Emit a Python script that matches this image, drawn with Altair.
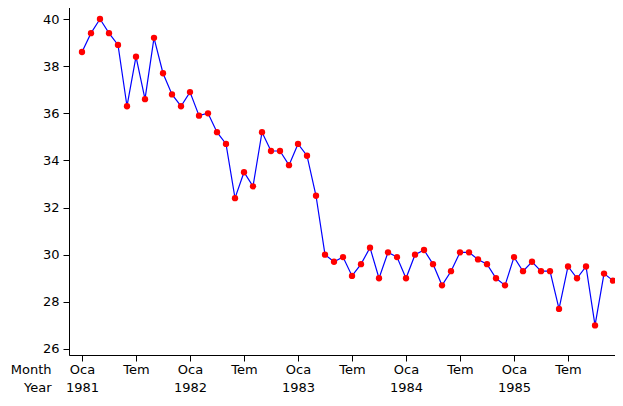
import json
import altair as alt
import pandas as pd

# Monthly values, Jan 1981 .. Dec 1985
values = [
    38.6, 39.4, 40.0, 39.4, 38.9, 36.3, 38.4, 36.6, 39.2, 37.7, 36.8, 36.3,
    36.9, 35.9, 36.0, 35.2, 34.7, 32.4, 33.5, 32.9, 35.2, 34.4, 34.4, 33.8,
    34.7, 34.2, 32.5, 30.0, 29.7, 29.9, 29.1, 29.6, 30.3, 29.0, 30.1, 29.9,
    29.0, 30.0, 30.2, 29.6, 28.7, 29.3, 30.1, 30.1, 29.8, 29.6, 29.0, 28.7,
    29.9, 29.3, 29.7, 29.3, 29.3, 27.7, 29.5, 29.0, 29.5, 27.0, 29.2, 28.9,
]
month_index = list(range(len(values)))

tick_positions = [0, 6, 12, 18, 24, 30, 36, 42, 48, 54]
month_labels = ["Oca", "Tem", "Oca", "Tem", "Oca", "Tem", "Oca", "Tem", "Oca", "Tem"]
year_labels = ["1981", "", "1982", "", "1983", "", "1984", "", "1985", ""]
y_ticks = [26, 28, 30, 32, 34, 36, 38, 40]

df = pd.DataFrame({"t": month_index, "v": values})

label_expr = (
    f"[{json.dumps(month_labels)}[round(datum.value/6)], "
    f"{json.dumps(year_labels)}[round(datum.value/6)]]"
)

FONT = "DejaVu Sans"

x = alt.X(
    "t:Q",
    scale=alt.Scale(domain=[-1.444, 59.22], nice=False, zero=False),
    axis=alt.Axis(
        values=tick_positions,
        labelExpr=label_expr,
        labelLineHeight=18,
        labelOverlap=False,
        labelFlush=False,
        tickSize=6,
        labelPadding=2,
        labelBaseline="top",
        grid=False,
        title=["Month", "Year"],
        titleX=-18,
        titleY=8,
        titleAlign="right",
        titleBaseline="top",
        titleLineHeight=18,
        titleFontWeight="normal",
        titleFontSize=13,
        titleFont=FONT,
        titleColor="black",
    ),
)
y = alt.Y(
    "v:Q",
    scale=alt.Scale(domain=[25.745, 40.764], nice=False, zero=False),
    axis=alt.Axis(values=y_ticks, tickSize=6, labelPadding=4, grid=False, title=None),
)

line = alt.Chart(df).mark_line(color="#0000ff", strokeWidth=1.2).encode(x=x, y=y)
pts = alt.Chart(df).mark_circle(color="#ff0000", opacity=1, size=40).encode(x=x, y=y)

chart = (
    alt.layer(line, pts)
    .properties(
        width=546,
        height=354,
        autosize=alt.AutoSizeParams(type="none"),
        padding={"top": -7, "left": 61, "right": 0, "bottom": 38},
    )
    .configure_view(stroke="#808080", strokeWidth=1)
    .configure_axis(
        labelFont=FONT,
        labelFontSize=13,
        labelColor="black",
        domainColor="black",
        tickColor="black",
        domainWidth=1,
        tickWidth=1,
    )
)

chart.save("out.html", embed_options={"renderer": "svg", "actions": False})
